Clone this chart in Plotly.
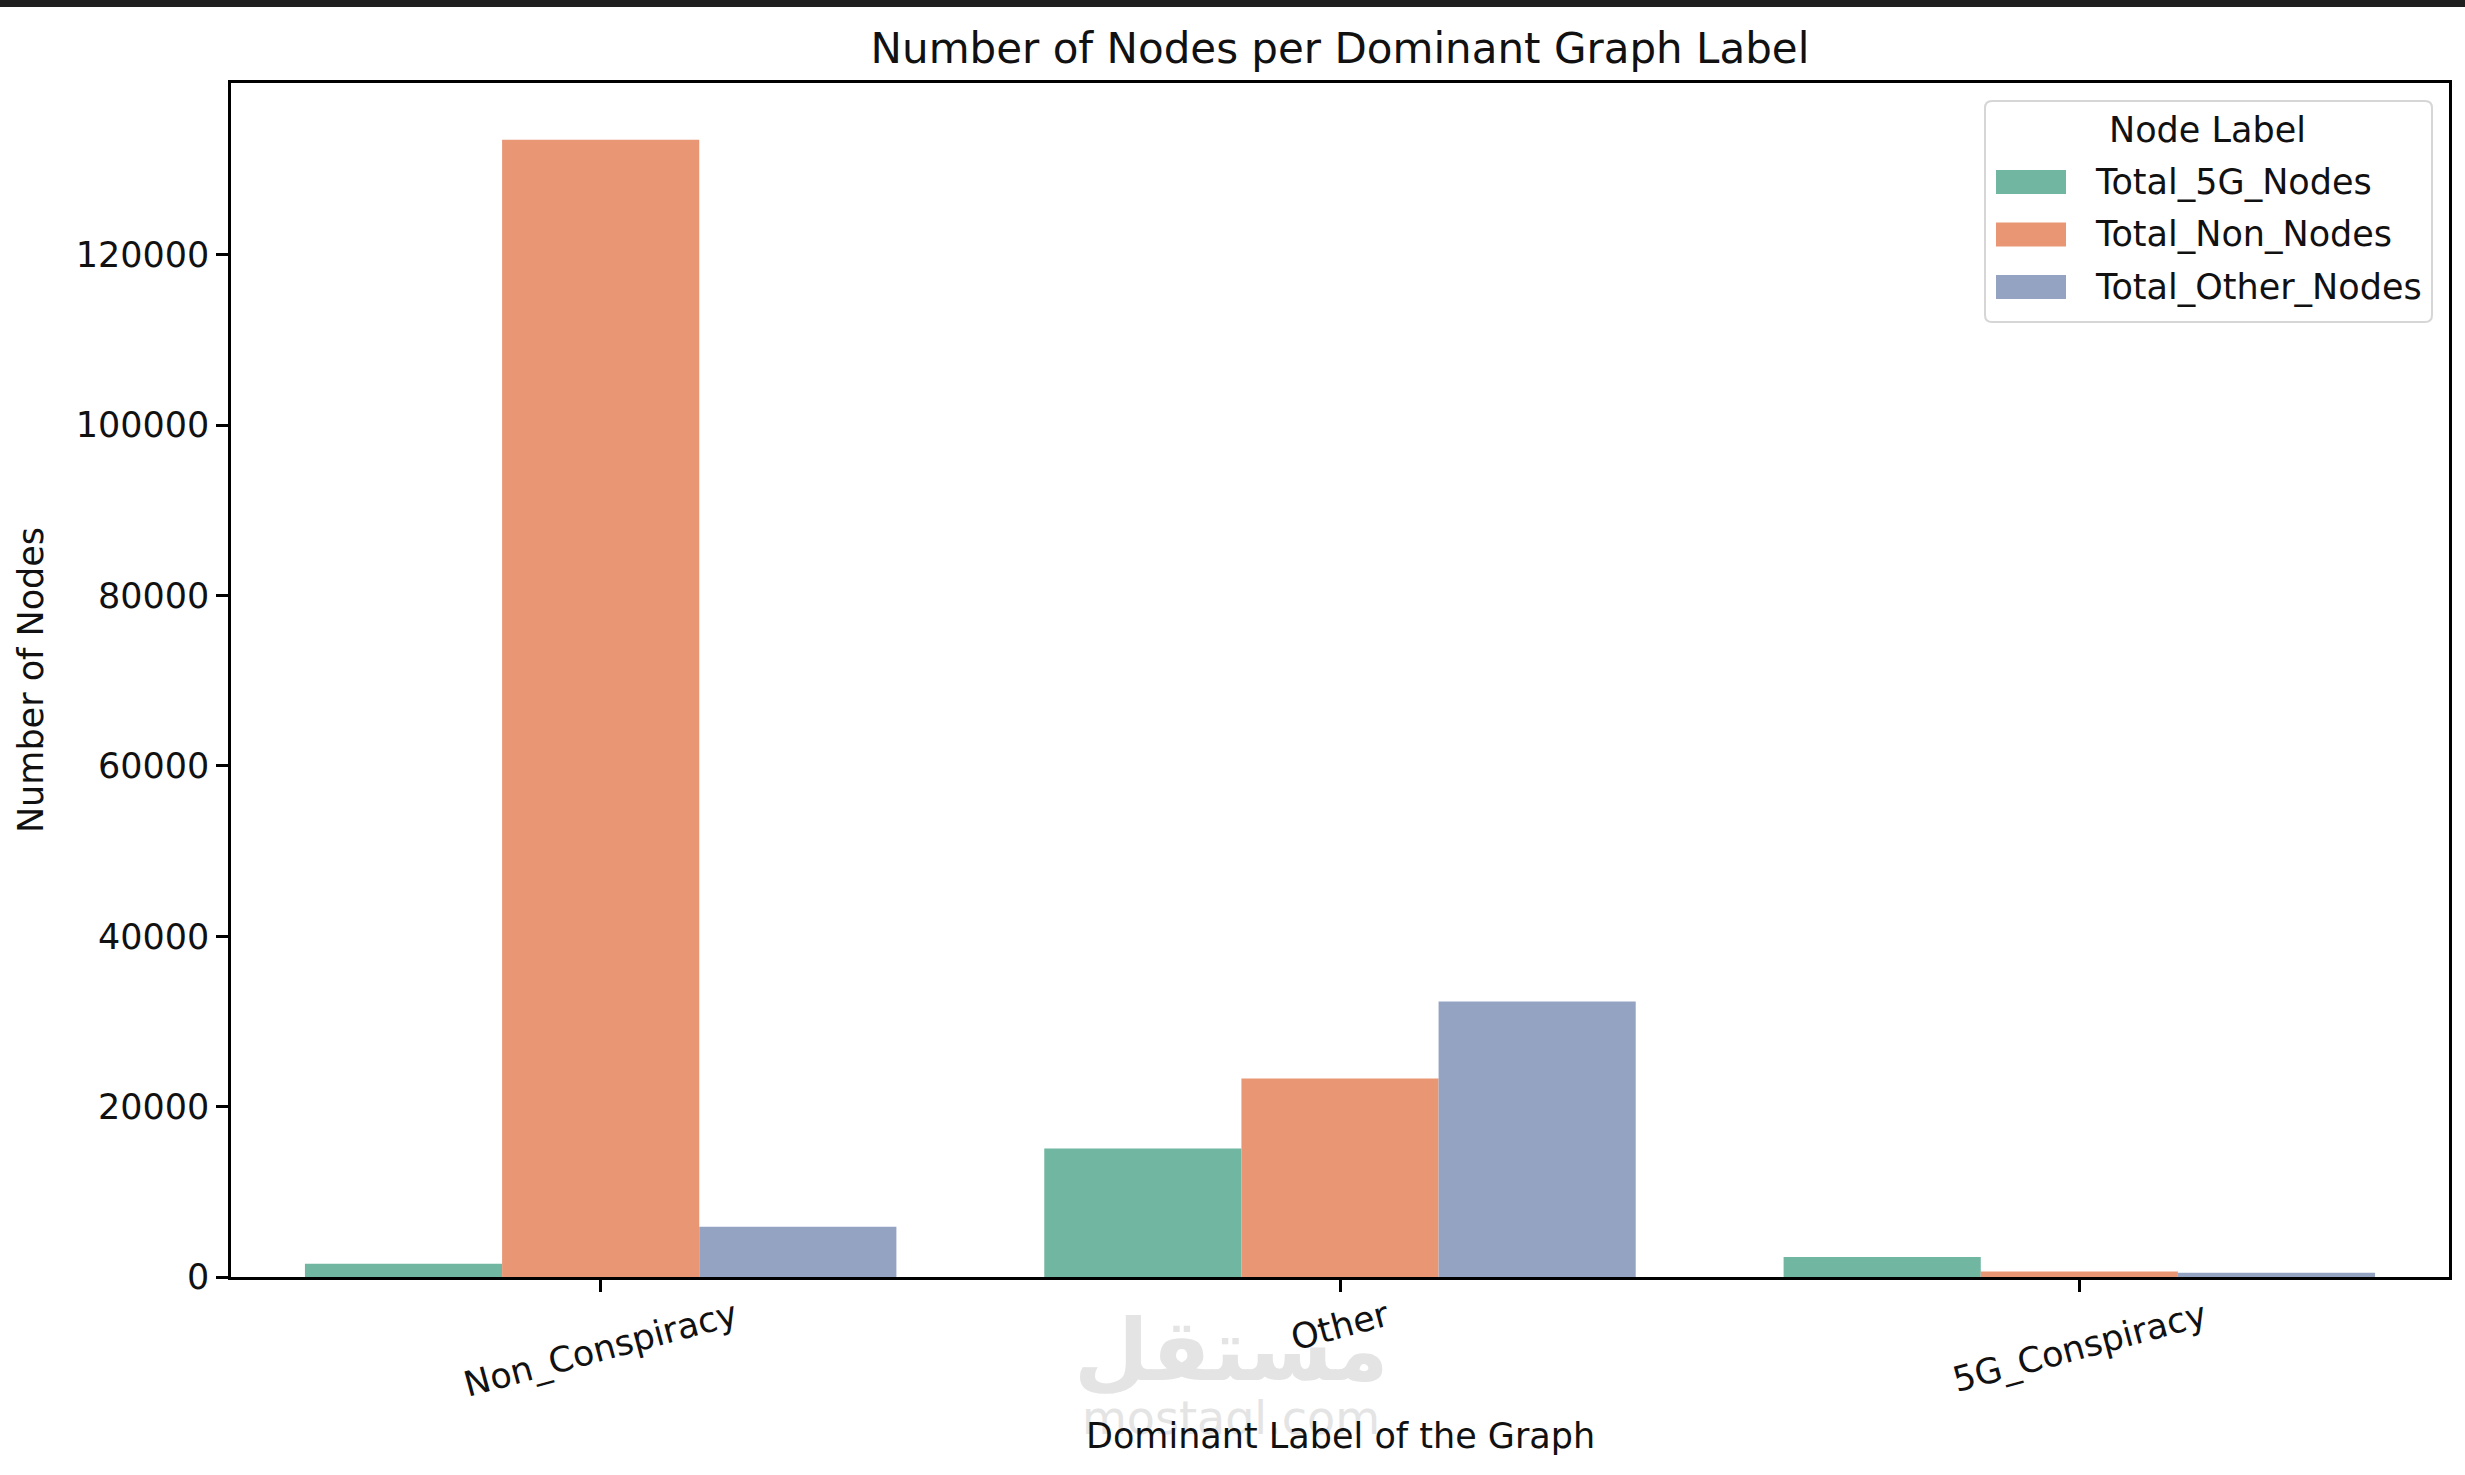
import plotly.graph_objects as go

categories = ["Non_Conspiracy", "Other", "5G_Conspiracy"]
series_names = ["Total_5G_Nodes", "Total_Non_Nodes", "Total_Other_Nodes"]
total_5g_nodes = [1550, 15100, 2350]
total_non_nodes = [133500, 23300, 650]
total_other_nodes = [5900, 32350, 500]
colors = ["#71b6a1", "#e99675", "#95a3c3"]
y_ticks = [0, 20000, 40000, 60000, 80000, 100000, 120000]

W, H = 2465, 1475
L, R, T, B = 231, 16, 83, 198
PW, PH = W - L - R, H - T - B
FONT = "DejaVu Sans"
FS = 35


def px_x(x):
    return (x - L) / PW


def px_y(y):
    return (H - B - y) / PH


fig = go.Figure()
for name, vals, col in zip(series_names, [total_5g_nodes, total_non_nodes, total_other_nodes], colors):
    fig.add_trace(go.Bar(x=categories, y=vals, name=name, marker_color=col,
                         marker_line_width=0, showlegend=False))

ymax = max(total_5g_nodes + total_non_nodes + total_other_nodes) * 1.05

fig.update_layout(
    width=W, height=H,
    margin=dict(l=L, r=R, t=T, b=B),
    paper_bgcolor="white", plot_bgcolor="white",
    barmode="group", bargap=0.2, bargroupgap=0,
    font=dict(family=FONT, size=FS, color="#111111"),
    title=dict(text="Number of Nodes per Dominant Graph Label", x=0.5, xref="paper",
               xanchor="center", y=1 - 48 / H, yanchor="middle",
               font=dict(size=42, color="#111111")),
)

fig.update_xaxes(type="category", range=[-0.5, 2.5], showgrid=False, showline=True, mirror=True,
                 linecolor="black", linewidth=2.5, ticks="outside", ticklen=12, tickwidth=2.5,
                 tickcolor="black", showticklabels=False)
fig.update_yaxes(range=[0, ymax], tickvals=y_ticks, tickformat="d", showgrid=False, zeroline=False,
                 showline=True, mirror=True, linecolor="black", linewidth=2.5, ticks="outside",
                 ticklen=12, tickwidth=2.5, tickcolor="black", tickfont=dict(size=FS),
                 title=dict(text="Number of Nodes", font=dict(size=FS), standoff=22))

# rotated category labels, centred under each tick like matplotlib's rotation=15
for c in categories:
    fig.add_annotation(x=c, xref="x", y=-0.0117, yref="paper", text=c, textangle=-15,
                       showarrow=False, xanchor="center", yanchor="top", font=dict(size=FS))

# watermark (drawn first so the axis title sits on top)
fig.add_annotation(x=px_x(1231), xref="paper", y=px_y(1350), yref="paper", text="<b>مستقل</b>",
                   showarrow=False, xanchor="center", yanchor="middle",
                   font=dict(size=86, color="#e4e4e4", family="DejaVu Sans"))
fig.add_annotation(x=px_x(1231), xref="paper", y=px_y(1418), yref="paper", text="mostaql.com",
                   showarrow=False, xanchor="center", yanchor="middle",
                   font=dict(size=46, color="#e4e4e4"))

fig.add_annotation(x=0.5, xref="paper", y=px_y(1436), yref="paper", text="Dominant Label of the Graph",
                   showarrow=False, xanchor="center", yanchor="middle", font=dict(size=FS))

# dark strip along the top edge of the screenshot
fig.add_shape(type="rect", xref="paper", yref="paper", x0=px_x(-5), x1=px_x(W + 5),
              y0=px_y(7), y1=px_y(-5), fillcolor="#1f1f1f", line_width=0, layer="above")

# legend box (matplotlib style: wide patches, centred title)
x0, x1, y0, y1 = px_x(1985), px_x(2432), px_y(322), px_y(101)
rx, ry = 7 / PW, 7 / PH
path = (f"M {x0+rx},{y0} L {x1-rx},{y0} Q {x1},{y0} {x1},{y0+ry} L {x1},{y1-ry} "
        f"Q {x1},{y1} {x1-rx},{y1} L {x0+rx},{y1} Q {x0},{y1} {x0},{y1-ry} "
        f"L {x0},{y0+ry} Q {x0},{y0} {x0+rx},{y0} Z")
fig.add_shape(type="path", path=path, xref="paper", yref="paper", fillcolor="rgba(255,255,255,0.8)",
              line=dict(color="#d6d6d6", width=2), layer="above")
fig.add_annotation(x=px_x(2207), xref="paper", y=px_y(130), yref="paper", text="Node Label",
                   showarrow=False, xanchor="center", yanchor="middle", font=dict(size=FS))
for i, (name, col) in enumerate(zip(series_names, colors)):
    cy = [182, 234.5, 287][i]
    fig.add_shape(type="rect", xref="paper", yref="paper", x0=px_x(1996), x1=px_x(2066),
                  y0=px_y(cy + 12), y1=px_y(cy - 12), fillcolor=col, line_width=0, layer="above")
    fig.add_annotation(x=px_x(2093), xref="paper", y=px_y(cy), yref="paper", text=name,
                       showarrow=False, xanchor="left", yanchor="middle", font=dict(size=FS))

fig.write_html("out.html", config={"displayModeBar": False},
               post_script="document.body.style.margin='0px';")
